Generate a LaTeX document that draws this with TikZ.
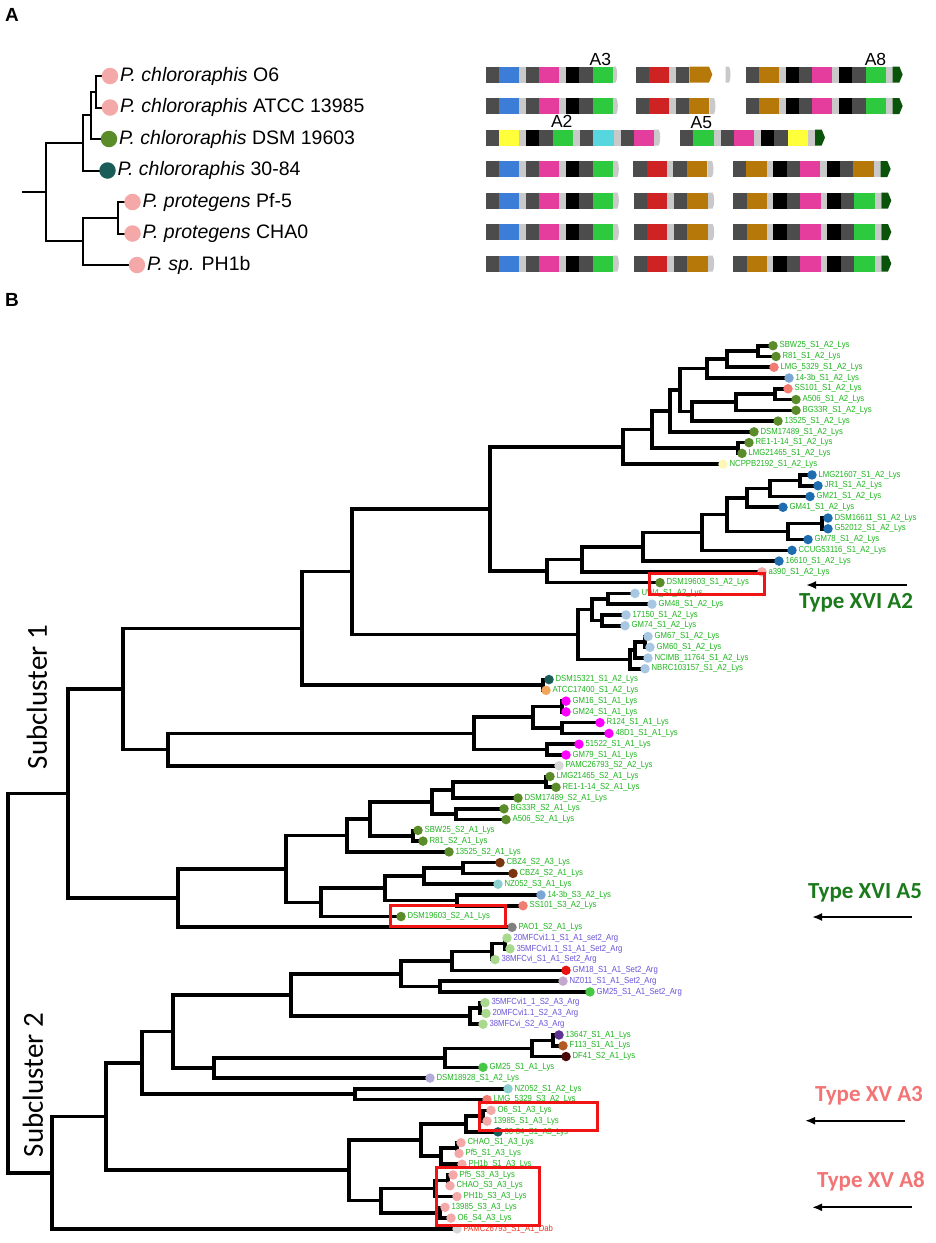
\documentclass[tikz,border=0pt]{standalone}
\usepackage{fontspec}
\setmainfont{Liberation Sans}
\newfontfamily\calibrifont{Carlito}
\usetikzlibrary{arrows.meta}

% leaf dot colours
\definecolor{cOlive}{HTML}{5B8C2A}
\definecolor{cSalmon}{HTML}{F27B72}
\definecolor{cMidblue}{HTML}{7BA6D4}
\definecolor{cPale}{HTML}{FFF7B5}
\definecolor{cDkblue}{HTML}{1E6DB0}
\definecolor{cPink}{HTML}{F5A8A8}
\definecolor{cLtblue}{HTML}{A7C7E3}
\definecolor{cDkteal}{HTML}{1A5C58}
\definecolor{cOrange}{HTML}{F2A65A}
\definecolor{cMagenta}{HTML}{FF00FF}
\definecolor{cLtgrey}{HTML}{D6D6D6}
\definecolor{cBrown}{HTML}{7A3510}
\definecolor{cTealLt}{HTML}{8CCFCF}
\definecolor{cGrey}{HTML}{7F7F7F}
\definecolor{cLtgreen}{HTML}{A9D98C}
\definecolor{cRed}{HTML}{E81212}
\definecolor{cLavender}{HTML}{C5A8CE}
\definecolor{cBrgreen}{HTML}{46C846}
\definecolor{cPurple}{HTML}{5E3391}
\definecolor{cOrbrown}{HTML}{B35A24}
\definecolor{cDkbrown}{HTML}{4A0808}
\definecolor{cLavblue}{HTML}{B4ACDA}
% text colours
\definecolor{lysgreen}{HTML}{1FB51F}
\definecolor{argpurple}{HTML}{6A52D9}
\definecolor{dabred}{HTML}{E8381C}
\definecolor{typedkgreen}{HTML}{1B7A1B}
\definecolor{typesalmon}{HTML}{F27474}
\definecolor{boxred}{HTML}{F01414}
% gene colours
\definecolor{dg}{HTML}{4C4C4C}
\definecolor{lg}{HTML}{C9C9C9}
\definecolor{gblue}{HTML}{3C7DD8}
\definecolor{gpink}{HTML}{E43D9E}
\definecolor{gblack}{HTML}{000000}
\definecolor{ggreen}{HTML}{2DC93E}
\definecolor{gred}{HTML}{CF2222}
\definecolor{gbrown}{HTML}{B7780A}
\definecolor{gyellow}{HTML}{FFFF3A}
\definecolor{gcyan}{HTML}{58D6E0}
\definecolor{gdkgreen}{HTML}{0A530A}

\pgfdeclarelayer{paper}
\pgfdeclarelayer{background}
\pgfsetlayers{paper,background,main}

% gene blocks: #1 row centre, #2 list start/end/colour
\newcommand{\genes}[2]{\foreach \a/\b/\col in #2 {\fill[\col] (\a,#1-8) rectangle (\b,#1+8);}}
% pale rounded end: #1 row centre, #2 start, #3 end
\newcommand{\geneend}[3]{\fill[lg] (#2,#1-8) -- (#3-6,#1-8) .. controls (#3,#1-5) and (#3,#1+5) .. (#3-6,#1+8) -- (#2,#1+8) -- cycle;}
% pointed end: #1 row centre, #2 start, #3 tip, #4 colour
\newcommand{\genetip}[4]{\fill[#4] (#2,#1-8) -- (#3-10,#1-8) -- (#3,#1) -- (#3-10,#1+8) -- (#2,#1+8) -- cycle;}

\def\segone{77/118/dg,118/178/gblue,178/198/lg,198/238/dg,238/298/gpink,298/318/lg,318/358/gblack,358/398/dg,398/459/ggreen}
\def\segthree{857/897/dg,897/957/gbrown,957/977/lg,977/1017/gblack,1017/1057/dg,1057/1117/gpink,1117/1137/lg,1137/1177/gblack,1177/1217/dg,1217/1277/ggreen,1277/1298/lg}
\def\segmid{522/562/dg,562/622/gred,622/642/lg,642/682/dg,682/744/gbrown}
\def\segend{818/860/dg,860/920/gbrown,920/940/lg,940/980/gblack,980/1020/dg,1020/1082/gpink,1082/1102/lg,1102/1142/gblack,1142/1182/dg,1182/1244/ggreen,1244/1264/lg}

\tikzset{
  branch/.style={line width=3.6pt, line cap=rect},
  abranch/.style={line width=2pt, line cap=rect},
  leafdot/.style={circle, inner sep=0pt, minimum size=9.5pt, fill=#1},
  adot/.style={circle, inner sep=0pt, minimum size=16.5pt, fill=#1},
  leaftext/.style={font=\fontsize{8.8}{9}\selectfont, text=#1, anchor=west, inner sep=0pt, xshift=1.5pt, xscale=0.88},
  strain/.style={font=\fontsize{19.5}{20}\selectfont, anchor=west, inner sep=0pt, xshift=1.5pt},
  modlabel/.style={font=\fontsize{17.5}{18}\selectfont, inner sep=0pt},
  panellabel/.style={font=\bfseries\fontsize{19}{20}\selectfont, inner sep=0pt},
  hibox/.style={draw=boxred, line width=3pt},
  typearrow/.style={line width=2pt, -{Latex[length=10pt,width=8pt]}},
  typelabel/.style={font=\calibrifont\bfseries\fontsize{23}{24}\selectfont, text=#1, inner sep=0pt},
  subcl/.style={font=\calibrifont\fontsize{29}{30}\selectfont, rotate=90, inner sep=0pt}
}

\begin{document}
\begin{tikzpicture}[x=1pt, y=-1pt]
\begin{pgfonlayer}{paper}
  \path[use as bounding box, fill=white] (0,0) rectangle (935,1243);
\end{pgfonlayer}

% ---- panel A ----
\node[panellabel] (pA) at (12,15) {A};

\node[adot=cPink] (d1) at (110,76) {};
\node[adot=cPink] (d2) at (110,107.5) {};
\node[adot=cOlive] (d3) at (109,139) {};
\node[adot=cDkteal] (d4) at (107.5,170.5) {};
\node[adot=cPink] (d5) at (132.5,202) {};
\node[adot=cPink] (d6) at (132.5,233.5) {};
\node[adot=cPink] (d7) at (137,265) {};

\node[strain] (s1) at (d1.east) {\textit{P. chlororaphis} O6};
\node[strain] (s2) at (d2.east) {\textit{P. chlororaphis} ATCC 13985};
\node[strain] (s3) at (d3.east) {\textit{P. chlororaphis} DSM 19603};
\node[strain] (s4) at (d4.east) {\textit{P. chlororaphis} 30-84};
\node[strain] (s5) at (d5.east) {\textit{P. protegens} Pf-5};
\node[strain] (s6) at (d6.east) {\textit{P. protegens} CHA0};
\node[strain] (s7) at (d7.east) {\textit{P. sp.} PH1b};

\coordinate (aRoot) at (22.7,192.2);
\coordinate (aTop) at (46,192.2);
\coordinate (aChl) at (83.3,143);
\coordinate (aChl3) at (90.7,115.4);
\coordinate (aO6) at (96,91.75);
\coordinate (aPro) at (83.3,241.4);
\coordinate (aPro2) at (118.3,217.75);

\begin{pgfonlayer}{background}
  \draw[abranch] (aRoot) -- (aTop);
  \foreach \p/\ch in {aTop/aChl, aTop/aPro, aChl/aChl3, aChl/d4, aChl3/aO6, aChl3/d3,
                      aO6/d1, aO6/d2, aPro/aPro2, aPro/d7, aPro2/d5, aPro2/d6}
    \draw[abranch] (\p) |- (\ch.center);
\end{pgfonlayer}

% gene clusters
\begin{scope}[x=0.33333pt, xshift=460pt]
  % row 1
  \genes{74.5}{\segone} \geneend{74.5}{459}{473}
  \genes{74.5}{{528/568/dg,568/628/gred,628/648/lg,648/688/dg}} \genetip{74.5}{688}{757}{gbrown}
  \geneend{74.5}{797}{813}
  \genes{74.5}{\segthree} \genetip{74.5}{1298}{1328}{gdkgreen}
  % row 2
  \genes{106}{\segone} \geneend{106}{459}{475}
  \genes{106}{{528/568/dg,568/628/gred,628/648/lg,648/688/dg,688/748/gbrown}} \geneend{106}{748}{768}
  \genes{106}{\segthree} \genetip{106}{1298}{1328}{gdkgreen}
  % row 3
  \genes{137.5}{{77/118/dg,118/178/gyellow,178/198/lg,198/238/gblack,238/280/dg,280/340/ggreen,340/360/lg,360/400/dg,400/462/gcyan,462/482/lg,482/522/dg,522/582/gpink}}
  \geneend{137.5}{582}{602}
  \genes{137.5}{{660/700/dg,700/762/ggreen,762/782/lg,782/822/dg,822/882/gpink,882/902/lg,902/942/gblack,942/985/dg,985/1045/gyellow,1045/1065/lg}}
  \genetip{137.5}{1065}{1095}{gdkgreen}
  % row 4
  \genes{169}{\segone} \geneend{169}{459}{478}
  \genes{169}{{520/560/dg,560/620/gred,620/640/lg,640/680/dg,680/742/gbrown}} \geneend{169}{742}{762}
  \genes{169}{{818/858/dg,858/920/gbrown,920/940/lg,940/980/gblack,980/1020/dg,1020/1080/gpink,1080/1100/lg,1100/1140/gblack,1140/1180/dg,1180/1242/gbrown,1242/1262/lg}}
  \genetip{169}{1262}{1292}{gdkgreen}
  % rows 5 to 7
  \foreach \yc in {200.5,232,263.5}{
    \genes{\yc}{\segone} \geneend{\yc}{459}{478}
    \genes{\yc}{\segmid} \geneend{\yc}{744}{764}
    \genes{\yc}{\segend} \genetip{\yc}{1264}{1294}{gdkgreen}
  }
\end{scope}

\node[modlabel] (mA3) at (600.3,59.7) {A3};
\node[modlabel] (mA8) at (875.5,59.7) {A8};
\node[modlabel] (mA2) at (561.7,121.5) {A2};
\node[modlabel] (mA5) at (701.3,122.5) {A5};

% ---- panel B ----
\node[panellabel] (pB) at (12,300) {B};

\node[subcl] (sc1) at (37,697) {Subcluster 1};
\node[subcl] (sc2) at (33,1085) {Subcluster 2};

\begin{scope}[y=-10.77pt, yshift=-334.93pt]
  % leaves
  \foreach \i/\x/\col/\txt/\tcol in {
    1/773/cOlive/SBW25\_S1\_A2\_Lys/lysgreen,
    2/776/cOlive/R81\_S1\_A2\_Lys/lysgreen,
    3/774/cSalmon/LMG\_5329\_S1\_A2\_Lys/lysgreen,
    4/789/cMidblue/14-3b\_S1\_A2\_Lys/lysgreen,
    5/788/cSalmon/SS101\_S1\_A2\_Lys/lysgreen,
    6/796/cOlive/A506\_S1\_A2\_Lys/lysgreen,
    7/796/cOlive/BG33R\_S1\_A2\_Lys/lysgreen,
    8/778/cOlive/13525\_S1\_A2\_Lys/lysgreen,
    9/754/cOlive/DSM17489\_S1\_A2\_Lys/lysgreen,
    10/749/cOlive/RE1-1-14\_S1\_A2\_Lys/lysgreen,
    11/742/cOlive/LMG21465\_S1\_A2\_Lys/lysgreen,
    12/723/cPale/NCPPB2192\_S1\_A2\_Lys/lysgreen,
    13/812/cDkblue/LMG21607\_S1\_A2\_Lys/lysgreen,
    14/818/cDkblue/JR1\_S1\_A2\_Lys/lysgreen,
    15/810/cDkblue/GM21\_S1\_A2\_Lys/lysgreen,
    16/783/cDkblue/GM41\_S1\_A2\_Lys/lysgreen,
    17/828/cDkblue/DSM16611\_S1\_A2\_Lys/lysgreen,
    18/828/cDkblue/G52012\_S1\_A2\_Lys/lysgreen,
    19/808/cDkblue/GM78\_S1\_A2\_Lys/lysgreen,
    20/792/cDkblue/CCUG53116\_S1\_A2\_Lys/lysgreen,
    21/779/cDkblue/16610\_S1\_A2\_Lys/lysgreen,
    22/762/cPink/a390\_S1\_A2\_Lys/lysgreen,
    23/660/cOlive/DSM19603\_S1\_A2\_Lys/lysgreen,
    24/635/cLtblue/UW4\_S1\_A2\_Lys/lysgreen,
    25/652/cLtblue/GM48\_S1\_A2\_Lys/lysgreen,
    26/626/cLtblue/17150\_S1\_A2\_Lys/lysgreen,
    27/625/cLtblue/GM74\_S1\_A2\_Lys/lysgreen,
    28/648/cLtblue/GM67\_S1\_A2\_Lys/lysgreen,
    29/650/cLtblue/GM60\_S1\_A2\_Lys/lysgreen,
    30/648/cLtblue/NCIMB\_11764\_S1\_A2\_Lys/lysgreen,
    31/645/cLtblue/NBRC103157\_S1\_A2\_Lys/lysgreen,
    32/549/cDkteal/DSM15321\_S1\_A2\_Lys/lysgreen,
    33/546/cOrange/ATCC17400\_S1\_A2\_Lys/lysgreen,
    34/566/cMagenta/GM16\_S1\_A1\_Lys/lysgreen,
    35/566/cMagenta/GM24\_S1\_A1\_Lys/lysgreen,
    36/600/cMagenta/R124\_S1\_A1\_Lys/lysgreen,
    37/609/cMagenta/48D1\_S1\_A1\_Lys/lysgreen,
    38/579/cMagenta/51522\_S1\_A1\_Lys/lysgreen,
    39/566/cMagenta/GM79\_S1\_A1\_Lys/lysgreen,
    40/559/cLtgrey/PAMC26793\_S2\_A2\_Lys/lysgreen,
    41/550/cOlive/LMG21465\_S2\_A1\_Lys/lysgreen,
    42/556/cOlive/RE1-1-14\_S2\_A1\_Lys/lysgreen,
    43/518/cOlive/DSM17489\_S2\_A1\_Lys/lysgreen,
    44/504/cOlive/BG33R\_S2\_A1\_Lys/lysgreen,
    45/506/cOlive/A506\_S2\_A1\_Lys/lysgreen,
    46/418/cOlive/SBW25\_S2\_A1\_Lys/lysgreen,
    47/423/cOlive/R81\_S2\_A1\_Lys/lysgreen,
    48/449/cOlive/13525\_S2\_A1\_Lys/lysgreen,
    49/500/cBrown/CBZ4\_S2\_A3\_Lys/lysgreen,
    50/513/cBrown/CBZ4\_S2\_A1\_Lys/lysgreen,
    51/498/cTealLt/NZ052\_S3\_A1\_Lys/lysgreen,
    52/541/cMidblue/14-3b\_S3\_A2\_Lys/lysgreen,
    53/523/cSalmon/SS101\_S3\_A2\_Lys/lysgreen,
    54/401/cOlive/DSM19603\_S2\_A1\_Lys/lysgreen,
    55/512/cGrey/PAO1\_S2\_A1\_Lys/lysgreen,
    56/507/cLtgreen/20MFCvi1.1\_S1\_A1\_set2\_Arg/argpurple,
    57/510/cLtgreen/35MFCvi1.1\_S1\_A1\_Set2\_Arg/argpurple,
    58/495/cLtgreen/38MFCvi\_S1\_A1\_Set2\_Arg/argpurple,
    59/566/cRed/GM18\_S1\_A1\_Set2\_Arg/argpurple,
    60/563/cLavender/NZ011\_S1\_A1\_Set2\_Arg/argpurple,
    61/590/cBrgreen/GM25\_S1\_A1\_Set2\_Arg/argpurple,
    62/485/cLtgreen/35MFCvi1\_1\_S2\_A3\_Arg/argpurple,
    63/486/cLtgreen/20MFCvi1.1\_S2\_A3\_Arg/argpurple,
    64/483/cLtgreen/38MFCvi\_S2\_A3\_Arg/argpurple,
    65/559/cPurple/13647\_S1\_A1\_Lys/lysgreen,
    66/563/cOrbrown/F113\_S1\_A1\_Lys/lysgreen,
    67/566/cDkbrown/DF41\_S2\_A1\_Lys/lysgreen,
    68/483/cBrgreen/GM25\_S1\_A1\_Lys/lysgreen,
    69/430/cLavblue/DSM18928\_S1\_A2\_Lys/lysgreen,
    70/508/cTealLt/NZ052\_S1\_A2\_Lys/lysgreen,
    71/487/cSalmon/LMG\_5329\_S3\_A2\_Lys/lysgreen,
    72/491/cPink/O6\_S1\_A3\_Lys/lysgreen,
    73/487/cPink/13985\_S1\_A3\_Lys/lysgreen,
    74/498/cDkteal/30-84\_S1\_A3\_Lys/lysgreen,
    75/461/cPink/CHAO\_S1\_A3\_Lys/lysgreen,
    76/459/cPink/Pf5\_S1\_A3\_Lys/lysgreen,
    77/462/cPink/PH1b\_S1\_A3\_Lys/lysgreen,
    78/453/cPink/Pf5\_S3\_A3\_Lys/lysgreen,
    79/450/cPink/CHAO\_S3\_A3\_Lys/lysgreen,
    80/457/cPink/PH1b\_S3\_A3\_Lys/lysgreen,
    81/445/cPink/13985\_S3\_A3\_Lys/lysgreen,
    82/451/cPink/O6\_S4\_A3\_Lys/lysgreen,
    83/457/cLtgrey/PAMC26793\_S1\_A1\_Dab/dabred}{
    \node[leafdot=\col] (l\i) at (\x,\i) {};
    \node[leaftext=\tcol] (t\i) at (l\i.east) {\txt};
  }

  % inner nodes: name/x/row
  \foreach \n/\x/\y in {
    root/8/60.18, sub1/68/42.58, sub2/52/77.787,
    n1_2/758/1.5, n1_3/727/2.25, n1_4/707/3.125, n5_6/775/5.5, n5_7/736/6.25,
    n5_8/692/7.125, n1_8/680/5.125, n1_9/670/7.0625, n10_11/738/10.5,
    n1_11/652/8.78125, n1_12/623/10.390625,
    n13_14/800/13.5, n13_15/770/14.25, n13_16/747/15.125, n17_18/822/17.5,
    n17_19/788/18.25, n13_19/727/16.6875, n13_20/702/18.34375,
    n13_21/643/19.671875, n13_22/582/20.836, n13_23/547/21.918, n1_23/490/16.154,
    n24_25/608/24.5, n26_27/602/26.5, n24_27/592/25.5, n28_29/645/28.5,
    n28_30/635/29.25, n28_31/630/30.125, n24_31/578/27.8125, n1_31/352/21.983,
    n32_33/543/32.5, n1_33/302/27.24,
    n34_35/562/34.5, n36_37/562/36.5, n34_37/533/35.5, n38_39/547/38.5,
    n34_39/474/37, n34_40/168/38.5, n1_40/123/32.87,
    n41_42/546/41.5, n41_43/453/42.25, n44_45/456/44.5, n41_45/432/43.375,
    n46_47/413/46.5, n41_47/370/44.9375, n41_48/347/46.46875,
    n49_50/463/49.5, n49_51/424/50.25, n52_53/457/52.5, n49_53/385/51.375,
    n49_54/321/52.6875, n41_54/286/49.578, n41_55/178/52.289,
    n56_57/505/56.5, n56_58/492/57.25, n56_59/452/58.125, n60_61/440/60.5,
    n56_61/401/59.3125, n62_63/480/62.5, n62_64/470/63.25, n56_64/291/61.28,
    n65_66/553/65.5, n65_67/532/66.25, n65_68/445/67.125, n65_69/214/68.0625,
    n56_69/173/64.67, n70_71/355/70.5, n56_71/142/67.586,
    n72_73/483/72.5, n72_74/466/73.25, n75_76/457/75.5, n75_77/441/76.25,
    n72_77/421/74.75, n78_79/448/78.5, n78_80/435/79.25, n81_82/440/81.5,
    n78_82/381/80.375, n72_82/349/77.5625, n56_82/106/72.574}
    \coordinate (\n) at (\x,\y);

  \begin{pgfonlayer}{background}
  \foreach \p/\ch in {
    root/sub1, root/sub2, sub1/n1_40, sub1/n41_55,
    n1_40/n1_33, n1_40/n34_40, n1_33/n1_31, n1_33/n32_33,
    n1_31/n1_23, n1_31/n24_31, n1_23/n1_12, n1_23/n13_23,
    n1_12/n1_11, n1_12/l12, n1_11/n1_9, n1_11/n10_11,
    n1_9/n1_8, n1_9/l9, n1_8/n1_4, n1_8/n5_8,
    n1_4/n1_3, n1_4/l4, n1_3/n1_2, n1_3/l3, n1_2/l1, n1_2/l2,
    n5_8/n5_7, n5_8/l8, n5_7/n5_6, n5_7/l7, n5_6/l5, n5_6/l6,
    n10_11/l10, n10_11/l11,
    n13_23/n13_22, n13_23/l23, n13_22/n13_21, n13_22/l22,
    n13_21/n13_20, n13_21/l21, n13_20/n13_19, n13_20/l20,
    n13_19/n13_16, n13_19/n17_19, n13_16/n13_15, n13_16/l16,
    n13_15/n13_14, n13_15/l15, n13_14/l13, n13_14/l14,
    n17_19/n17_18, n17_19/l19, n17_18/l17, n17_18/l18,
    n24_31/n24_27, n24_31/n28_31, n24_27/n24_25, n24_27/n26_27,
    n24_25/l24, n24_25/l25, n26_27/l26, n26_27/l27,
    n28_31/n28_30, n28_31/l31, n28_30/n28_29, n28_30/l30,
    n28_29/l28, n28_29/l29, n32_33/l32, n32_33/l33,
    n34_40/n34_39, n34_40/l40, n34_39/n34_37, n34_39/n38_39,
    n34_37/n34_35, n34_37/n36_37, n34_35/l34, n34_35/l35,
    n36_37/l36, n36_37/l37, n38_39/l38, n38_39/l39,
    n41_55/n41_54, n41_55/l55, n41_54/n41_48, n41_54/n49_54,
    n41_48/n41_47, n41_48/l48, n41_47/n41_45, n41_47/n46_47,
    n41_45/n41_43, n41_45/n44_45, n41_43/n41_42, n41_43/l43,
    n41_42/l41, n41_42/l42, n44_45/l44, n44_45/l45,
    n46_47/l46, n46_47/l47,
    n49_54/n49_53, n49_54/l54, n49_53/n49_51, n49_53/n52_53,
    n49_51/n49_50, n49_51/l51, n49_50/l49, n49_50/l50,
    n52_53/l52, n52_53/l53,
    sub2/n56_82, sub2/l83, n56_82/n56_71, n56_82/n72_82,
    n56_71/n56_69, n56_71/n70_71, n56_69/n56_64, n56_69/n65_69,
    n56_64/n56_61, n56_64/n62_64, n56_61/n56_59, n56_61/n60_61,
    n56_59/n56_58, n56_59/l59, n56_58/n56_57, n56_58/l58,
    n56_57/l56, n56_57/l57, n60_61/l60, n60_61/l61,
    n62_64/n62_63, n62_64/l64, n62_63/l62, n62_63/l63,
    n65_69/n65_68, n65_69/l69, n65_68/n65_67, n65_68/l68,
    n65_67/n65_66, n65_67/l67, n65_66/l65, n65_66/l66,
    n70_71/l70, n70_71/l71,
    n72_82/n72_77, n72_82/n78_82, n72_77/n72_74, n72_77/n75_77,
    n72_74/n72_73, n72_74/l74, n72_73/l72, n72_73/l73,
    n75_77/n75_76, n75_77/l77, n75_76/l75, n75_76/l76,
    n78_82/n78_80, n78_82/n81_82, n78_80/n78_79, n78_80/l80,
    n78_79/l78, n78_79/l79, n81_82/l81, n81_82/l82}
    \draw[branch] (\p) |- (\ch.center);
  \end{pgfonlayer}
\end{scope}

% highlighted leaves
\draw[hibox] (649,573.5) rectangle (764,594);
\draw[hibox] (390.7,905.7) rectangle (505,926.7);
\draw[hibox] (479,1102.7) rectangle (597,1130.7);
\draw[hibox] (436,1167.7) rectangle (539,1225);

% type arrows
\coordinate (a1s) at (906.7,585);   \coordinate (a1e) at (806,585);
\coordinate (a2s) at (912,917);     \coordinate (a2e) at (812,917);
\coordinate (a3s) at (905,1120.7);  \coordinate (a3e) at (805,1120.7);
\coordinate (a4s) at (912,1207.3);  \coordinate (a4e) at (812,1207.3);
\foreach \k in {1,2,3,4}
  \draw[typearrow] (a\k s) -- (a\k e);

\node[typelabel=typedkgreen] (ty1) at (856,603) {Type XVI A2};
\node[typelabel=typedkgreen] (ty2) at (865,892.5) {Type XVI A5};
\node[typelabel=typesalmon] (ty3) at (869,1096) {Type XV A3};
\node[typelabel=typesalmon] (ty4) at (871,1181.5) {Type XV A8};
\end{tikzpicture}
\end{document}
